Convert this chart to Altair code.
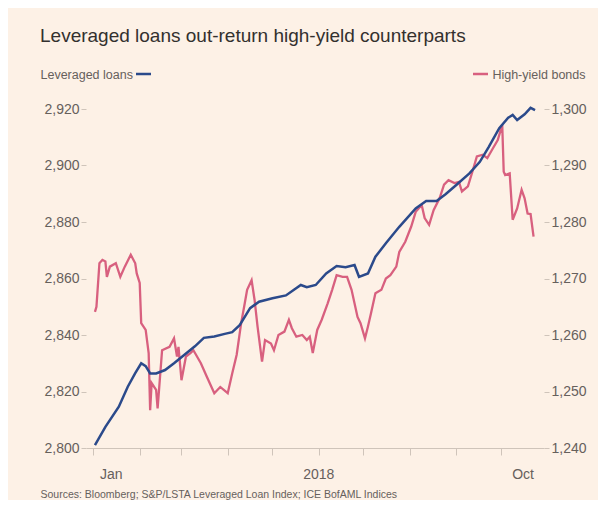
import altair as alt
import pandas as pd

# Leveraged loans index (left axis)
loan_dates = ["2018-01-02", "2018-01-09", "2018-01-18", "2018-01-24", "2018-01-29", "2018-02-02",
              "2018-02-05", "2018-02-08", "2018-02-12", "2018-02-18", "2018-02-24", "2018-03-03",
              "2018-03-10", "2018-03-16", "2018-03-23", "2018-03-30", "2018-04-04", "2018-04-09",
              "2018-04-16", "2018-04-22", "2018-05-01", "2018-05-10", "2018-05-20", "2018-05-24",
              "2018-05-30", "2018-06-06", "2018-06-13", "2018-06-19", "2018-06-25", "2018-06-28",
              "2018-07-04", "2018-07-09", "2018-07-16", "2018-07-25", "2018-08-05", "2018-08-12",
              "2018-08-19", "2018-08-25", "2018-09-01", "2018-09-10", "2018-09-17", "2018-09-23",
              "2018-09-30", "2018-10-06", "2018-10-09", "2018-10-12", "2018-10-17", "2018-10-21",
              "2018-10-24"]
loan_values = [2801.0, 2807.5, 2814.6, 2821.7, 2826.5, 2830.0,
               2829.0, 2826.4, 2826.4, 2827.6, 2830.0, 2833.0,
               2836.0, 2839.0, 2839.5, 2840.4, 2841.0, 2843.5,
               2849.5, 2851.8, 2853.0, 2854.0, 2857.7, 2856.9,
               2857.7, 2861.8, 2864.4, 2864.0, 2864.8, 2860.6,
               2861.8, 2867.7, 2872.5, 2878.3, 2884.8, 2887.4,
               2887.4, 2889.8, 2893.0, 2897.2, 2901.3, 2906.6,
               2913.2, 2916.9, 2917.9, 2916.1, 2918.1, 2920.4,
               2919.6]

# High-yield bonds index (right axis)
hy_dates = ["2018-01-02", "2018-01-03", "2018-01-05", "2018-01-07", "2018-01-09", "2018-01-10",
            "2018-01-12", "2018-01-16", "2018-01-19", "2018-01-22", "2018-01-26", "2018-01-29",
            "2018-01-30", "2018-02-01", "2018-02-02", "2018-02-05", "2018-02-07", "2018-02-08",
            "2018-02-09", "2018-02-12", "2018-02-13", "2018-02-16", "2018-02-21", "2018-02-24",
            "2018-02-26", "2018-02-27", "2018-03-01", "2018-03-04", "2018-03-07", "2018-03-09",
            "2018-03-14", "2018-03-18", "2018-03-23", "2018-03-27", "2018-04-01", "2018-04-04",
            "2018-04-07", "2018-04-10", "2018-04-12", "2018-04-14", "2018-04-17", "2018-04-19",
            "2018-04-21", "2018-04-24", "2018-04-26", "2018-04-30", "2018-05-02", "2018-05-05",
            "2018-05-09", "2018-05-12", "2018-05-14", "2018-05-17", "2018-05-21", "2018-05-24",
            "2018-05-26", "2018-05-28", "2018-05-31", "2018-06-03", "2018-06-07", "2018-06-10",
            "2018-06-13", "2018-06-17", "2018-06-20", "2018-06-23", "2018-06-27", "2018-06-29",
            "2018-07-02", "2018-07-04", "2018-07-06", "2018-07-09", "2018-07-13", "2018-07-16",
            "2018-07-19", "2018-07-23", "2018-07-25", "2018-07-29", "2018-08-02", "2018-08-05",
            "2018-08-09", "2018-08-11", "2018-08-14", "2018-08-17", "2018-08-21", "2018-08-24",
            "2018-08-27", "2018-08-31", "2018-09-03", "2018-09-05", "2018-09-09", "2018-09-12",
            "2018-09-15", "2018-09-19", "2018-09-22", "2018-09-25", "2018-09-29", "2018-10-02",
            "2018-10-03", "2018-10-04", "2018-10-07", "2018-10-09", "2018-10-12", "2018-10-15",
            "2018-10-17", "2018-10-19", "2018-10-21", "2018-10-23"]
hy_values = [1264.1, 1265.0, 1272.7, 1273.3, 1273.0, 1270.3,
             1272.1, 1272.7, 1270.3, 1272.1, 1274.2, 1272.7,
             1270.9, 1269.2, 1262.1, 1260.9, 1256.8, 1246.7,
             1251.5, 1250.3, 1247.0, 1257.3, 1257.9, 1259.4,
             1256.2, 1257.9, 1252.0, 1256.2, 1256.8, 1257.3,
             1255.0, 1252.6, 1249.7, 1250.8, 1249.7, 1253.2,
             1256.5, 1262.1, 1265.0, 1268.0, 1269.7, 1266.2,
             1261.5, 1255.3, 1259.1, 1258.5, 1257.3, 1260.0,
             1260.6, 1262.7, 1261.2, 1259.7, 1260.0, 1259.1,
             1259.7, 1256.8, 1260.9, 1262.7, 1265.6, 1268.0,
             1270.6, 1270.3, 1270.3, 1268.0, 1263.2, 1262.1,
             1259.4, 1261.5, 1263.8, 1267.4, 1268.0, 1270.0,
             1270.6, 1272.1, 1274.7, 1276.5, 1279.2, 1281.8,
             1283.0, 1280.7, 1279.5, 1282.1, 1284.2, 1286.6,
             1287.4, 1286.9, 1287.1, 1285.4, 1286.3, 1288.9,
             1291.6, 1291.9, 1291.3, 1292.7, 1294.5, 1297.2,
             1288.9, 1288.3, 1288.6, 1280.4, 1282.4, 1285.7,
             1284.2, 1281.5, 1281.4, 1277.4]

left_ticks = [2800, 2820, 2840, 2860, 2880, 2900, 2920]
right_ticks = [1240, 1250, 1260, 1270, 1280, 1290, 1300]
x_label_dates = ["2018-01-13", "2018-06-01", "2018-10-16"]
x_label_texts = ["Jan", "2018", "Oct"]

title_text = "Leveraged loans out-return high-yield counterparts"
source_text = "Sources: Bloomberg; S&P/LSTA Leveraged Loan Index; ICE BofAML Indices"

BG = "#fdf1e6"
BLUE = "#2b4a8b"
PINK = "#d8607f"
GREY = "#66605c"
LIGHT = "#cfc4ba"
FONT = "Liberation Sans"

loans = pd.DataFrame({"date": pd.to_datetime(loan_dates), "value": loan_values})
hy = pd.DataFrame({"date": pd.to_datetime(hy_dates), "value": hy_values})
xlab = pd.DataFrame({"date": pd.to_datetime(x_label_dates), "label": x_label_texts})

xaxis = alt.Axis(
    labels=False, grid=False, domain=True, domainColor=LIGHT, domainWidth=1,
    ticks=True, tickColor=LIGHT, tickSize=7,
    tickCount={"interval": "month", "step": 1},
    title=source_text, titleFont=FONT, titleFontSize=10.5, titleFontWeight="normal",
    titleColor=GREY, titleAnchor="start", titleAlign="left", titleBaseline="middle",
    titleX=-46, titleY=46,
)
xscale = alt.Scale(domain=[alt.DateTime(year=2017, month=12, date=27),
                           alt.DateTime(year=2018, month=10, date=30)])
xenc = alt.X("date:T", scale=xscale, axis=xaxis)

loan_line = alt.Chart(loans).mark_line(color=BLUE, strokeWidth=2.5).encode(
    x=xenc,
    y=alt.Y("value:Q", scale=alt.Scale(domain=[2800, 2920], nice=False, zero=False),
            axis=alt.Axis(orient="left", values=left_ticks, format=",.0f", grid=False, domain=False,
                          ticks=True, tickColor=LIGHT, tickSize=5, labelPadding=2,
                          labelFont=FONT, labelFontSize=14, labelColor=GREY,
                          title="Leveraged loans", titleAngle=0, titleAlign="left",
                          titleBaseline="middle", titleX=-46, titleY=-35,
                          titleFont=FONT, titleFontSize=12.5, titleFontWeight="normal",
                          titleColor=GREY)),
)

hy_line = alt.Chart(hy).mark_line(color=PINK, strokeWidth=2.3).encode(
    x=xenc,
    y=alt.Y("value:Q", scale=alt.Scale(domain=[1240, 1300], nice=False, zero=False),
            axis=alt.Axis(orient="right", values=right_ticks, format=",.0f", grid=False, domain=False,
                          ticks=True, tickColor=LIGHT, tickSize=5, labelPadding=2,
                          labelFont=FONT, labelFontSize=14, labelColor=GREY,
                          title="High-yield bonds", titleAngle=0, titleAlign="right",
                          titleBaseline="middle", titleX=41, titleY=-35,
                          titleFont=FONT, titleFontSize=12.5, titleFontWeight="normal",
                          titleColor=GREY)),
)

xtext = alt.Chart(xlab).mark_text(font=FONT, fontSize=14, color=GREY, baseline="middle").encode(
    x=xenc,
    y=alt.value(366),
    text="label:N",
)

dash_df = pd.DataFrame({"k": [0]})
blue_dash = alt.Chart(dash_df).mark_rule(color=BLUE, strokeWidth=2.5).encode(
    x=alt.value(50), x2=alt.value(65), y=alt.value(-35))
pink_dash = alt.Chart(dash_df).mark_rule(color=PINK, strokeWidth=2.5).encode(
    x=alt.value(387), x2=alt.value(402), y=alt.value(-35))

chart = alt.layer(hy_line, loan_line, xtext, blue_dash, pink_dash).resolve_scale(
    y="independent"
).properties(
    width=458,
    height=339,
    padding={"left": 78, "top": 101, "right": 54, "bottom": 52},
    autosize=alt.AutoSizeParams(type="none"),
    background=BG,
    title=alt.TitleParams(title_text, anchor="start", frame="group", dx=-46, offset=22,
                          font=FONT, fontSize=19, fontWeight="normal", color="#33302e"),
).configure_view(stroke=None)

chart.save("out.html", embed_options={"renderer": "svg", "actions": False})
